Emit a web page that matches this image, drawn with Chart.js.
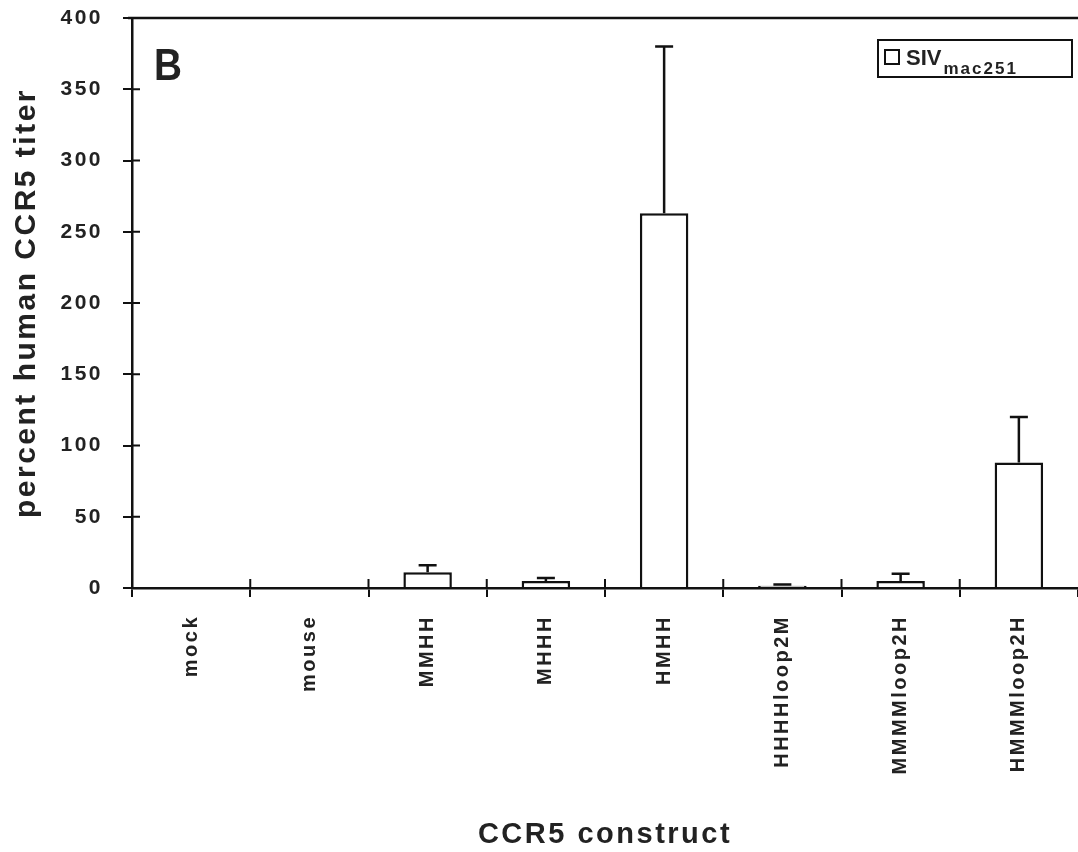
<!DOCTYPE html>
<html>
<head>
<meta charset="utf-8">
<script src="https://cdn.jsdelivr.net/npm/chart.js@4"></script>
<style>
  html, body { margin: 0; padding: 0; background: #fff; }
  #wrap { width: 1078px; height: 852px; }
</style>
</head>
<body>
<div id="wrap"><canvas id="myChart" width="1078" height="852"></canvas></div>
<script>
const constructs = ['mock', 'mouse', 'MMHH', 'MHHH', 'HMHH', 'HHHHloop2M', 'MMMMloop2H', 'HMMMloop2H'];
const titer = [0, 0, 11, 5, 263, 1.5, 5, 88];
const titerErr = [0, 0, 5, 2, 117, 1, 5, 32];
const yTicks = [0, 50, 100, 150, 200, 250, 300, 350, 400];

const FONT = "'Liberation Sans', Arial, sans-serif";
const SPACING = '2.5px';

// the scanned figure uses a slightly wide-tracked bold font
const tracking = {
    id: 'tracking',
    beforeUpdate(chart) { chart.ctx.letterSpacing = SPACING; },
    beforeDraw(chart) { chart.ctx.letterSpacing = SPACING; }
};

// error bars on top of each bar, from the chart's own scales
const errorBars = {
    id: 'errorBars',
    afterDatasetsDraw(chart) {
        const ctx = chart.ctx;
        const y = chart.scales.y;
        const meta = chart.getDatasetMeta(0);
        ctx.save();
        ctx.strokeStyle = '#111';
        ctx.lineWidth = 2.5;
        meta.data.forEach((bar, i) => {
            if (!titerErr[i]) return;
            const top = y.getPixelForValue(titer[i] + titerErr[i]);
            ctx.beginPath();
            ctx.moveTo(bar.x, bar.y);
            ctx.lineTo(bar.x, top);
            ctx.moveTo(bar.x - 9, top);
            ctx.lineTo(bar.x + 9, top);
            ctx.stroke();
        });
        ctx.restore();
    }
};

// top frame line, inner halves of the tick marks, panel letter and boxed legend
const extras = {
    id: 'extras',
    afterDraw(chart) {
        const ctx = chart.ctx;
        const area = chart.chartArea;
        const xs = chart.scales.x;
        const ys = chart.scales.y;
        ctx.save();
        ctx.letterSpacing = '0px';
        ctx.strokeStyle = '#111';
        ctx.lineWidth = 2.5;
        ctx.beginPath();
        ctx.moveTo(area.left - 4, area.top);
        ctx.lineTo(chart.width, area.top);
        ctx.stroke();

        ctx.lineWidth = 2;
        ctx.beginPath();
        yTicks.slice(1, -1).forEach(v => {
            const py = ys.getPixelForValue(v);
            ctx.moveTo(area.left, py);
            ctx.lineTo(area.left + 8, py);
        });
        const step = (xs.right - xs.left) / constructs.length;
        for (let i = 1; i < constructs.length; i++) {
            const px = xs.left + i * step;
            ctx.moveTo(px, area.bottom);
            ctx.lineTo(px, area.bottom - 9);
        }
        ctx.stroke();

        ctx.fillStyle = '#222';
        ctx.textBaseline = 'alphabetic';
        ctx.save();
        ctx.translate(154, 80);
        ctx.scale(0.88, 1);
        ctx.font = `bold 44px ${FONT}`;
        ctx.fillText('B', 0, 0);
        ctx.restore();

        ctx.lineWidth = 2;
        ctx.strokeRect(878, 40, 194, 37);
        ctx.strokeRect(885, 50, 14, 14);
        ctx.font = `bold 22px ${FONT}`;
        ctx.fillText('SIV', 906, 65);
        const w = ctx.measureText('SIV').width;
        ctx.letterSpacing = '2px';
        ctx.font = `bold 17px ${FONT}`;
        ctx.fillText('mac251', 906 + w + 2, 74);
        ctx.restore();
    }
};

new Chart(document.getElementById('myChart'), {
    type: 'bar',
    data: {
        labels: constructs,
        datasets: [{
            label: 'SIVmac251',
            data: titer,
            backgroundColor: '#fff',
            borderColor: '#111',
            borderWidth: 2.5,
            borderSkipped: 'bottom',
            categoryPercentage: 1,
            barPercentage: 0.41
        }]
    },
    options: {
        responsive: false,
        animation: false,
        layout: { padding: { top: 18, right: 0, left: 0, bottom: 0 } },
        plugins: {
            legend: { display: false },
            tooltip: { enabled: false },
            title: { display: false }
        },
        scales: {
            x: {
                offset: true,
                border: { color: '#111', width: 2.5 },
                grid: { offset: true, drawOnChartArea: false, color: '#111', tickLength: 9, lineWidth: 2 },
                ticks: {
                    color: '#222',
                    font: { family: FONT, size: 20, weight: 'bold' },
                    minRotation: 90,
                    maxRotation: 90,
                    padding: 18
                },
                title: {
                    display: true,
                    text: 'CCR5 construct',
                    color: '#222',
                    font: { family: FONT, size: 29, weight: 'bold' },
                    padding: { top: 0, bottom: 0 }
                },
                afterFit(scale) { scale.height = 264; }
            },
            y: {
                min: 0,
                max: 400,
                afterBuildTicks(scale) { scale.ticks = yTicks.map(v => ({ value: v })); },
                border: { color: '#111', width: 2.5 },
                grid: { drawOnChartArea: false, color: '#111', tickLength: 9, lineWidth: 2 },
                ticks: {
                    color: '#222',
                    font: { family: FONT, size: 21, weight: 'bold' },
                    padding: 20
                },
                title: {
                    display: true,
                    text: 'percent human CCR5 titer',
                    color: '#222',
                    font: { family: FONT, size: 30, weight: 'bold' },
                    padding: { top: 9, bottom: 0 }
                },
                afterFit(scale) {
                    scale.width = 132;
                    scale.paddingTop = 0;
                    scale.paddingBottom = 0;
                }
            }
        }
    },
    plugins: [tracking, errorBars, extras]
});
</script>
</body>
</html>
